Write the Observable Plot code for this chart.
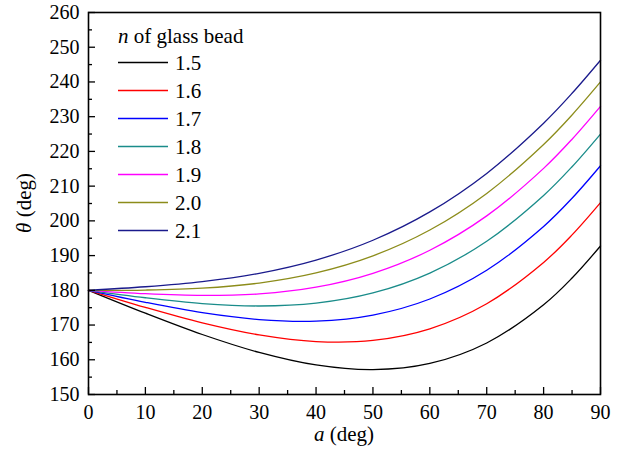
<!DOCTYPE html>
<html><head><meta charset="utf-8">
<script src="https://cdn.jsdelivr.net/npm/d3@7"></script>
<script src="https://cdn.jsdelivr.net/npm/@observablehq/plot@0.6"></script>
<style>
body{margin:0;background:#fff}
svg{display:block}
svg, svg text, svg tspan{font-family:"Liberation Serif","Tinos","DejaVu Serif","Times New Roman",Times,serif !important;}
</style>
</head><body><div id="chart"></div>
<script>
// incidence angle a (deg)
const angles = [0, 10, 20, 30, 40, 50, 60, 70, 80, 85, 90];
// theta (deg) for each refractive index n
const n15 = [180, 173.41, 167.28, 162.12, 158.50, 157.16, 158.94, 164.84, 175.85, 183.54, 192.76];
const n16 = [180, 175.08, 170.63, 167.16, 165.25, 165.58, 168.92, 176.14, 188.04, 195.97, 205.27];
const n17 = [180, 176.55, 173.57, 171.58, 171.13, 172.87, 177.50, 185.77, 198.39, 206.51, 215.87];
const n18 = [180, 177.86, 176.19, 175.49, 176.31, 179.25, 184.97, 194.12, 207.32, 215.59, 225.00];
const n19 = [180, 179.02, 178.52, 178.97, 180.90, 184.89, 191.53, 201.43, 215.12, 223.51, 232.97];
const n20 = [180, 180.08, 180.61, 182.09, 185.01, 189.92, 197.36, 207.90, 222.00, 230.50, 240.00];
const n21 = [180, 181.03, 182.51, 184.90, 188.71, 194.42, 202.58, 213.67, 228.13, 236.73, 246.25];
const seriesNames = ["1.5", "1.6", "1.7", "1.8", "1.9", "2.0", "2.1"];
const seriesValues = [n15, n16, n17, n18, n19, n20, n21];
const colors = ["#000000", "#ff0000", "#0000ff", "#1a8c8a", "#ff00ff", "#8c8c1a", "#1a1a8c"];
const xTicks = [0, 10, 20, 30, 40, 50, 60, 70, 80, 90];
const xMinor = [5, 15, 25, 35, 45, 55, 65, 75, 85];
const yTicks = [150, 160, 170, 180, 190, 200, 210, 220, 230, 240, 250, 260];
const yMinor = [155, 165, 175, 185, 195, 205, 215, 225, 235, 245, 255];

const data = seriesNames.flatMap((name, i) =>
  angles.map((a, j) => ({a, theta: seriesValues[i][j], n: name})));

const W = 637, H = 456, mL = 88, mR = 37, mT = 12, mB = 62;
const font = "Liberation Serif, DejaVu Serif, serif";

const plot = Plot.plot({
  width: W, height: H,
  marginLeft: mL, marginRight: mR, marginTop: mT, marginBottom: mB,
  style: {fontSize: "20px", color: "#000", background: "#fff", fontFamily: font},
  x: {domain: [0, 90]},
  y: {domain: [150, 260]},
  color: {domain: seriesNames, range: colors},
  marks: [
    Plot.line(data, {x: "a", y: "theta", stroke: "n", strokeWidth: 1.3, curve: "catmull-rom"}),
    Plot.axisX({ticks: xTicks, tickSize: -7, tickPadding: 17, label: null, stroke: "#000", strokeWidth: 1.3, fontVariant: "normal"}),
    Plot.axisX({ticks: xMinor, tickSize: -4, tickFormat: () => "", label: null, stroke: "#000", strokeWidth: 1.3}),
    Plot.axisY({ticks: yTicks, tickSize: -7, tickPadding: 16, label: null, stroke: "#000", strokeWidth: 1.3, fontVariant: "normal"}),
    Plot.axisY({ticks: yMinor, tickSize: -4, tickFormat: () => "", label: null, stroke: "#000", strokeWidth: 1.3}),
    Plot.frame({stroke: "#000", strokeWidth: 1.6})
  ]
});
document.getElementById("chart").appendChild(plot);

const svg = d3.select(plot);
const g = svg.append("g").attr("font-family", font).attr("fill", "#000").attr("text-anchor", "start");
// axis labels
const xl = g.append("text").attr("x", (mL + W - mR) / 2).attr("y", 441)
  .attr("text-anchor", "middle").attr("font-size", 21);
xl.append("tspan").attr("font-style", "italic").text("a");
xl.append("tspan").text(" (deg)");
const yl = g.append("text").attr("transform", `translate(31,${(mT + H - mB) / 2}) rotate(-90)`)
  .attr("text-anchor", "middle").attr("font-size", 21);
yl.append("tspan").attr("font-style", "italic").text("θ");
yl.append("tspan").text(" (deg)");
// legend
const lt = g.append("text").attr("x", 118).attr("y", 43).attr("font-size", 21).attr("text-anchor", "start");
lt.append("tspan").attr("font-style", "italic").text("n");
lt.append("tspan").text(" of glass bead");
seriesNames.forEach((name, i) => {
  const yy = 62.5 + i * 28.0;
  g.append("line").attr("x1", 118).attr("x2", 168).attr("y1", yy).attr("y2", yy)
    .attr("stroke", colors[i]).attr("stroke-width", 1.3);
  g.append("text").attr("x", 175).attr("y", yy + 7.5).attr("font-size", 21)
    .attr("text-anchor", "start").text(name);
});
</script></body></html>
